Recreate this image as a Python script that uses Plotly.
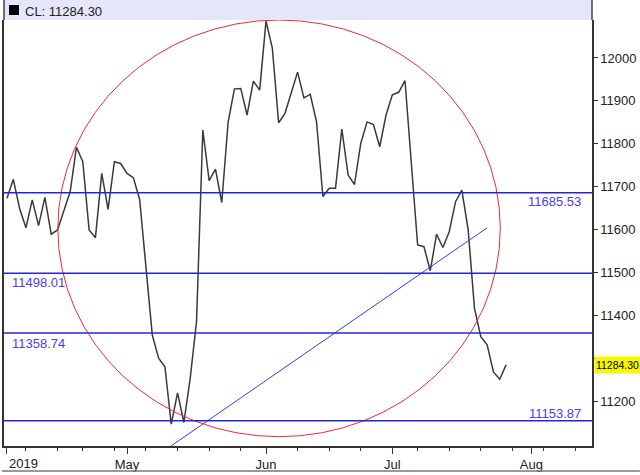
import pandas as pd
import plotly.graph_objects as go

# ---- data ----
holidays = ["2019-04-19", "2019-05-27", "2019-07-04"]
dates = [d.strftime("%Y-%m-%d") for d in pd.bdate_range("2019-04-03", "2019-07-26")
         if d.strftime("%Y-%m-%d") not in holidays]

closes = [11673, 11717, 11649, 11604, 11669, 11609, 11675, 11589, 11599, 11643,
          11688, 11792, 11758, 11599, 11581, 11731, 11647, 11758, 11754, 11731,
          11721, 11670, 11502, 11354, 11300, 11280, 11146, 11219, 11150, 11253,
          11385, 11832, 11714, 11741, 11663, 11850, 11928, 11929, 11867, 11946,
          11925, 12086, 12023, 11849, 11871, 11918, 11967, 11907, 11915, 11851,
          11677, 11696, 11696, 11834, 11727, 11705, 11801, 11851, 11845, 11793,
          11867, 11914, 11920, 11947, 11762, 11564, 11560, 11504, 11589, 11558,
          11595, 11665, 11692, 11599, 11416, 11350, 11331, 11268, 11251, 11284.30]

last_value = 11284.30
levels = [11685.53, 11498.01, 11358.74, 11153.87]
level_sides = ["right", "left", "left", "right"]
trend_dates = ["2019-05-10", "2019-07-23"]
trend_values = [11095.5, 11604]

month_tickvals = ["2019-04-03", "2019-05-01", "2019-06-03", "2019-07-01", "2019-08-01"]
month_ticktext = ["", "May", "Jun", "Jul", "Aug"]
y_tickvals = [11200, 11300, 11400, 11500, 11600, 11700, 11800, 11900, 12000]
y_ticktext = ["11200", "", "11400", "11500", "11600", "11700", "11800", "11900", "12000"]

FONT = "Liberation Sans, Arial, sans-serif"
W, H = 640, 475
L, R, T, B = 2, 48, 20, 29
PW, PH = W - L - R, H - T - B

def px(xp):
    return (xp - L) / PW

def py(yp):
    return (H - B - yp) / PH

fig = go.Figure()
fig.add_trace(go.Scatter(x=dates, y=closes, mode="lines",
                         line=dict(color="#3a3a3a", width=1.5), hoverinfo="skip"))
fig.add_trace(go.Scatter(x=trend_dates, y=trend_values, mode="lines",
                         line=dict(color="#3a3aee", width=1), hoverinfo="skip"))

shapes = []
# ellipse
shapes.append(dict(type="circle", xref="paper", yref="paper",
                   x0=px(56), x1=px(500), y0=py(436.7), y1=py(20),
                   line=dict(color="#ee2b2b", width=1)))
for lv in levels:
    shapes.append(dict(type="line", xref="paper", yref="y", x0=0, x1=1, y0=lv, y1=lv,
                       line=dict(color="#2424dc", width=1.5)))
# header band
shapes.append(dict(type="rect", xref="paper", yref="paper", x0=0, x1=1, y0=1, y1=py(0),
                   fillcolor="#e6e6fa", line=dict(width=0), layer="above"))
shapes.append(dict(type="line", xref="paper", yref="paper", x0=0, x1=0, y0=1, y1=py(0),
                   line=dict(color="#444", width=1.5), layer="above"))
shapes.append(dict(type="line", xref="paper", yref="paper", x0=1, x1=1, y0=1, y1=py(0),
                   line=dict(color="#444", width=1.5), layer="above"))
shapes.append(dict(type="rect", xref="paper", yref="paper", x0=px(7), x1=px(17),
                   y0=py(15), y1=py(5), fillcolor="black", line=dict(width=0), layer="above"))
# bottom border
shapes.append(dict(type="line", xref="paper", yref="paper", x0=px(0), x1=px(640),
                   y0=py(471), y1=py(471), line=dict(color="#777", width=1.5)))

annotations = []
annotations.append(dict(xref="paper", yref="paper", x=px(21), y=py(11), xanchor="left",
                        yanchor="middle", text="CL: 11284.30", showarrow=False,
                        font=dict(family=FONT, size=13, color="#222")))
label_pos = {11685.53: 202, 11498.01: 283, 11358.74: 343, 11153.87: 413}
for lv, side in zip(levels, level_sides):
    annotations.append(dict(xref="paper", yref="paper",
                            x=px(583) if side == "right" else px(8),
                            xanchor="right" if side == "right" else "left",
                            y=py(label_pos[lv]), yanchor="middle",
                            text=f"{lv:.2f}", showarrow=False,
                            font=dict(family=FONT, size=13, color="#4a3cf0")))
annotations.append(dict(xref="paper", yref="y", x=px(594), y=last_value, xanchor="left",
                        yanchor="middle", text=f"{last_value:.2f}", showarrow=False,
                        bgcolor="#f7f700", borderpad=0, width=45, height=16, align="center",
                        font=dict(family=FONT, size=10.5, color="black")))
annotations.append(dict(xref="paper", yref="paper", x=px(5), y=py(463), xanchor="left",
                        yanchor="middle", text="2019", showarrow=False,
                        font=dict(family=FONT, size=13, color="#222")))

fig.update_layout(
    width=W, height=H, autosize=False,
    margin=dict(l=L, r=R, t=T, b=B, pad=0),
    paper_bgcolor="white", plot_bgcolor="white", showlegend=False,
    font=dict(family=FONT, size=13, color="#222"),
    shapes=shapes, annotations=annotations,
    xaxis=dict(type="date", range=["2019-04-02 12:40", "2019-08-14 14:24"],
               rangebreaks=[dict(bounds=["sat", "mon"]), dict(values=holidays)],
               tickmode="array", tickvals=month_tickvals, ticktext=month_ticktext,
               ticks="outside", ticklen=6, tickcolor="#333", tickwidth=1,
               showline=True, linecolor="#333", linewidth=1.5,
               showgrid=False, zeroline=False,
               minor=dict(ticks="outside", ticklen=3, tickcolor="#333",
                          dtick=7 * 86400000, tick0="2019-04-01", showgrid=False)),
    yaxis=dict(side="right", range=[11095.2, 12088.6],
               tickmode="array", tickvals=y_tickvals, ticktext=y_ticktext,
               ticks="outside", ticklen=4, tickcolor="#333",
               showline=True, mirror=True, linecolor="#333", linewidth=1.5,
               showgrid=False, zeroline=False),
)

fig.write_html("out.html", config={"displayModeBar": False},
               post_script="document.body.style.margin='0';")
